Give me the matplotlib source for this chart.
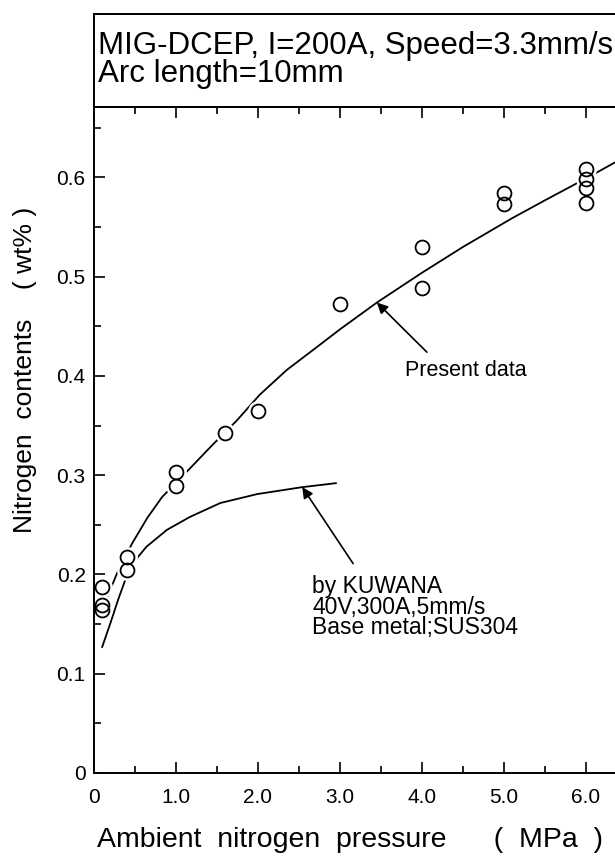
import matplotlib.pyplot as plt
from matplotlib.patches import Rectangle

# measured points (present data)
pressure = [0.1, 0.1, 0.1, 0.4, 0.4, 1.0, 1.0, 1.6, 2.0, 3.0, 4.0, 4.0,
            5.0, 5.0, 6.0, 6.0, 6.0, 6.0]
nitrogen = [0.187, 0.169, 0.164, 0.218, 0.205, 0.303, 0.289, 0.343, 0.365,
            0.473, 0.530, 0.489, 0.584, 0.573, 0.609, 0.598, 0.589, 0.574]

# fitted curve, present data
fit_x = [0.16, 0.3, 0.47, 0.65, 0.83, 1.09, 1.45, 1.74, 2.02, 2.35, 2.7,
         3.0, 3.45, 4.0, 4.5, 5.1, 5.5, 5.84, 6.11, 6.35]
fit_y = [0.177, 0.205, 0.232, 0.257, 0.278, 0.300, 0.331, 0.355, 0.381,
         0.406, 0.428, 0.447, 0.474, 0.504, 0.530, 0.559, 0.577, 0.592,
         0.604, 0.615]

# curve by KUWANA
kuw_x = [0.1, 0.2, 0.3, 0.41, 0.52, 0.64, 0.89, 1.17, 1.54, 1.99, 2.54, 2.95]
kuw_y = [0.127, 0.151, 0.176, 0.201, 0.216, 0.228, 0.245, 0.258, 0.272,
         0.281, 0.288, 0.292]

xticks = [0, 1, 2, 3, 4, 5, 6]
xtick_labels = ['0', '1.0', '2.0', '3.0', '4.0', '5.0', '6.0']
yticks = [0, 0.1, 0.2, 0.3, 0.4, 0.5, 0.6]
ytick_labels = ['0', '0.1', '0.2', '0.3', '0.4', '0.5', '0.6']

plt.rcParams['font.family'] = ['Liberation Sans', 'DejaVu Sans']

W, H = 615, 858
fig = plt.figure(figsize=(W / 100, H / 100), dpi=100)
ax = fig.add_axes([94 / W, 1 - 773 / H, 1 - 94 / W, (773 - 107) / H])

ax.plot(fit_x, fit_y, color='k', lw=1.3)
ax.plot(kuw_x, kuw_y, color='k', lw=1.3)
# white halo so the lines break around the circles
ax.plot(pressure, nitrogen, 'o', ms=10, mfc='white', mec='white', mew=5)
ax.plot(pressure, nitrogen, 'o', ms=10, mfc='none', mec='k', mew=1.3)

ax.set_xlim(0, 6.354)
ax.set_ylim(0, 0.671)
ax.set_xticks(xticks)
ax.set_xticklabels(xtick_labels)
ax.set_yticks(yticks)
ax.set_yticklabels(ytick_labels)
ax.set_xticks([0.5, 1.5, 2.5, 3.5, 4.5, 5.5], minor=True)
ax.set_yticks([0.05, 0.15, 0.25, 0.35, 0.45, 0.55, 0.65], minor=True)
ax.tick_params(which='both', direction='in', top=True, right=False,
               width=1.2, labelsize=15)
ax.tick_params(which='major', length=8)
ax.tick_params(which='minor', length=5)
ax.tick_params(axis='x', pad=11)
ax.tick_params(axis='y', pad=6)
ax.spines['right'].set_visible(False)
for s in ['left', 'bottom', 'top']:
    ax.spines[s].set_linewidth(1.4)

ax.set_xlabel('Ambient  nitrogen  pressure      (  MPa  )', fontsize=20.5,
              ha='left')
ax.xaxis.set_label_coords(3 / 521, (773 - 840) / 666)
ax.xaxis.label.set_va('center')
ax.set_ylabel('Nitrogen  contents    ( wt% )', fontsize=19)
ax.yaxis.set_label_coords((25 - 94) / 521, (773 - 370) / 666)
ax.yaxis.label.set_va('center')

ax.annotate('', xy=(3.45, 0.474), xytext=(4.06, 0.424),
            arrowprops=dict(arrowstyle='-|>', color='k', lw=1.2,
                            mutation_scale=16, shrinkA=0, shrinkB=0))
ax.text(3.79, 0.406, 'Present data', fontsize=15.5, va='center', ha='left')

ax.annotate('', xy=(2.54, 0.288), xytext=(3.16, 0.211),
            arrowprops=dict(arrowstyle='-|>', color='k', lw=1.2,
                            mutation_scale=16, shrinkA=0, shrinkB=0))
ax.text(2.66, 0.199, 'by KUWANA\n40V,300A,5mm/s\nBase metal;SUS304',
        fontsize=16.5, va='top', ha='left', linespacing=0.85)

# header box above the plot
fig.patches.append(Rectangle((94 / W, 1 - 107 / H), 1.0, (107 - 14) / H,
                             transform=fig.transFigure, fill=False,
                             lw=1.4, ec='k'))
fig.text(98 / W, 1 - 46 / H, 'MIG-DCEP, I=200A, Speed=3.3mm/s',
         fontsize=22.5, va='center', ha='left')
fig.text(98 / W, 1 - 74 / H, 'Arc length=10mm',
         fontsize=22.5, va='center', ha='left')

fig.savefig('out.png', dpi=100)
